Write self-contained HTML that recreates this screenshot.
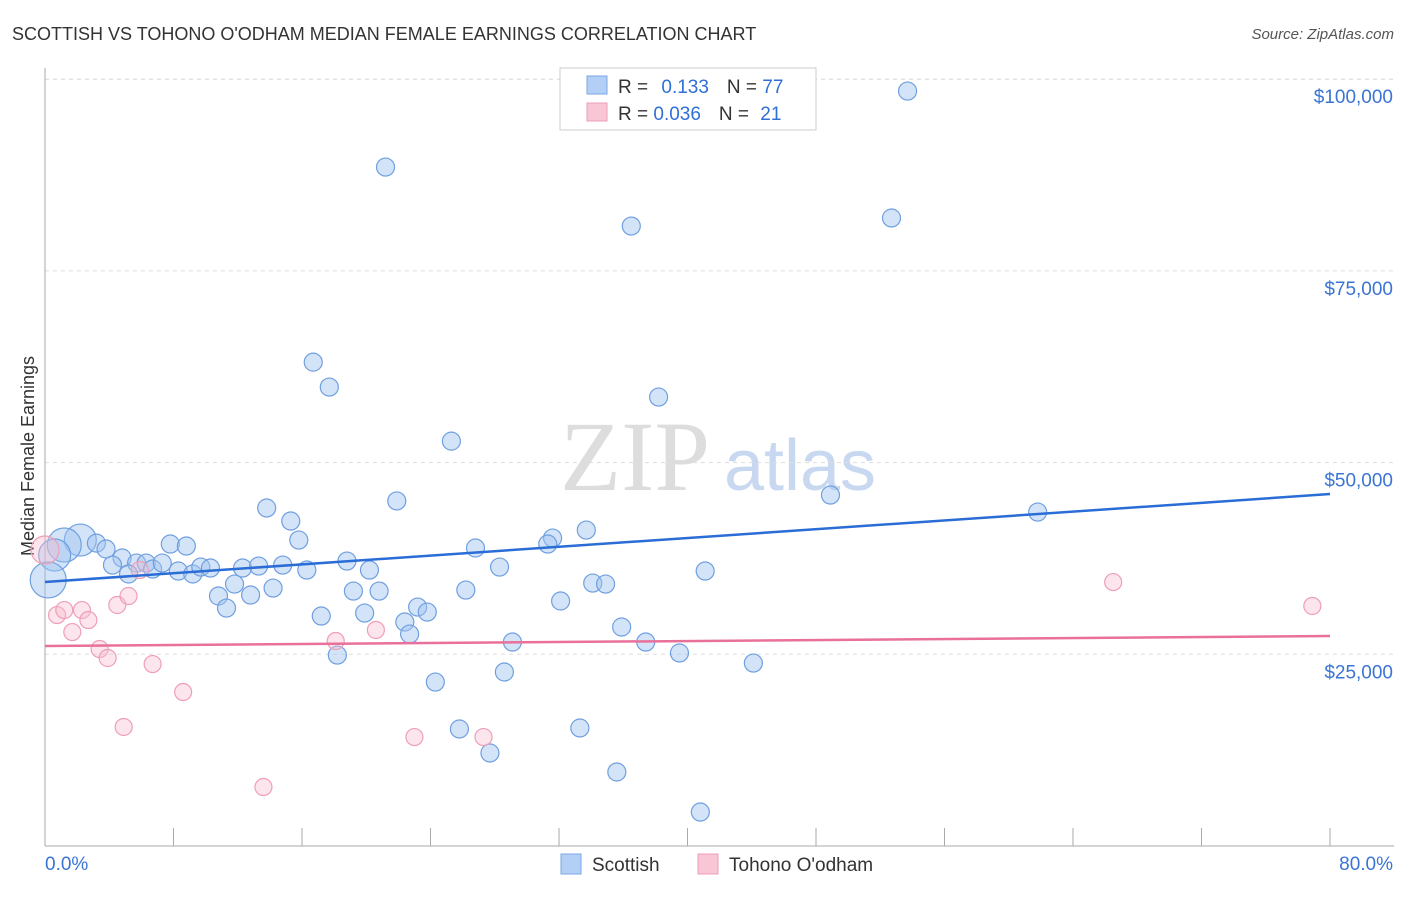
<!DOCTYPE html>
<html><head><meta charset="utf-8"><style>
body{margin:0;background:#fff;font-family:"Liberation Sans",sans-serif}
svg text{font-family:"Liberation Sans",sans-serif}
</style></head><body>
<svg id="c" width="1406" height="892" xmlns="http://www.w3.org/2000/svg">
<text x="12" y="40" font-size="18" fill="#333">SCOTTISH VS TOHONO O'ODHAM MEDIAN FEMALE EARNINGS CORRELATION CHART</text>
<text x="1394" y="39" font-size="15" fill="#555" text-anchor="end" font-style="italic">Source: ZipAtlas.com</text>
<text x="34" y="456" font-size="18" fill="#333" text-anchor="middle" transform="rotate(-90 34 456)">Median Female Earnings</text>
<g><text x="635" y="490" font-size="100" fill="#ddd" text-anchor="middle" style="font-family:'Liberation Serif',serif">ZIP</text><text x="800" y="490" font-size="72" fill="#c8d8f0" text-anchor="middle">atlas</text></g>
<g id="grid"></g><g id="axes"></g><g id="pts"></g><g id="lines"></g>
<g>
<rect x="560" y="68" width="256" height="62" fill="#fff" stroke="#ccc"/>
<rect x="587" y="76" width="20" height="18" fill="#b4cff5" stroke="#7aa7e6"/>
<rect x="587" y="103" width="20" height="18" fill="#f9c6d5" stroke="#ee9fb8"/>
<text x="618" y="93" font-size="19" fill="#333">R = <tspan fill="#2f6fd6" dx="8">0.133</tspan><tspan fill="#333" dx="18">N = </tspan><tspan fill="#2f6fd6">77</tspan></text>
<text x="618" y="120" font-size="19" fill="#333">R = <tspan fill="#2f6fd6">0.036</tspan><tspan fill="#333" dx="18">N = </tspan><tspan fill="#2f6fd6" dx="6">21</tspan></text>
</g>
<g>
<rect x="561" y="854" width="20" height="20" fill="#b4cff5" stroke="#7aa7e6"/>
<text x="592" y="871" font-size="19" fill="#333">Scottish</text>
<rect x="698" y="854" width="20" height="20" fill="#f9c6d5" stroke="#ee9fb8"/>
<text x="729" y="871" font-size="19" fill="#333">Tohono O'odham</text>
</g>
</svg>
<script>
const yTicks=[25000,50000,75000,100000];
const yTickLabels=["$25,000","$50,000","$75,000","$100,000"];
const xTicks=[0,8,16,24,32,40,48,56,64,72,80];
const blueX=[53.7,21.2,36.5,52.7,16.7,17.7,38.2,25.3,21.9,48.9,61.8,13.8,15.3,33.7,31.6,31.3,15.8,26.8,7.8,8.8,2.2,1.2,0.6,0.2,3.2,3.8,4.8,4.2,5.7,6.3,5.2,6.7,7.3,8.3,9.2,9.7,10.3,12.3,13.3,14.8,16.3,18.8,20.2,11.8,14.2,10.8,12.8,11.3,19.2,20.8,26.2,28.3,34.1,34.9,41.1,32.1,23.2,23.8,19.9,17.2,22.4,22.7,35.9,29.1,37.4,18.2,39.5,44.1,28.6,24.3,25.8,33.3,27.7,35.6,40.8];
const blueY=[98450,88540,80850,81900,63100,59850,58550,52800,45000,45770,43550,44080,42380,41200,40160,39380,39900,38860,39380,39120,39900,39250,37950,34700,39500,38730,37560,36640,36900,36900,35470,36120,36900,35860,35470,36380,36250,36250,36510,36640,35990,37160,35990,34160,33640,32600,32730,31030,33250,33250,33380,36380,34290,34160,35860,31950,31160,30510,30380,29990,29210,27640,28560,26600,26600,24900,25170,23860,22690,21380,15260,15390,12130,9650,4430];
const blueR=[9,9,9,9,9,9,9,9,9,9,9,9,9,9,9,9,9,9,9,9,16,17,16,18,9,9,9,9,9,9,9,9,9,9,9,9,9,9,9,9,9,9,9,9,9,9,9,9,9,9,9,9,9,9,9,9,9,9,9,9,9,9,9,9,9,9,9,9,9,9,9,9,9,9,9];
const pinkX=[0,0.75,1.2,2.3,2.7,1.7,4.5,5.2,5.9,3.4,3.9,6.7,8.6,4.9,13.6,18.1,20.6,23.0,27.3,66.5,78.9];
const pinkY=[38600,30120,30770,30770,29470,27900,31430,32600,35990,25690,24520,23730,20080,15520,7690,26730,28170,14210,14210,34420,31300];
const pinkR=[14,8.5,8.5,8.5,8.5,8.5,8.5,8.5,8.5,8.5,8.5,8.5,8.5,8.5,8.5,8.5,8.5,8.5,8.5,8.5,8.5];
const blueTrend=[34430,45900];
const pinkTrend=[26080,27380];
const X=v=>45+v/80*1285, Y=v=>846-v/25000*191.7;
const NS="http://www.w3.org/2000/svg";
function mk(p,t,a){const e=document.createElementNS(NS,t);for(const k in a)e.setAttribute(k,a[k]);p.appendChild(e);return e;}
const g=document.getElementById('grid'),ax=document.getElementById('axes'),pts=document.getElementById('pts'),ln=document.getElementById('lines');
yTicks.forEach((t,i)=>{
 const l=mk(g,'line',{x1:45,x2:1394,y1:Y(t),y2:Y(t),stroke:'#ddd','stroke-dasharray':'4,4'});
 
 
 const tx=mk(ax,'text',{x:1393,y:Y(t)+24,'font-size':19,fill:'#3a74d4','text-anchor':'end'});tx.textContent=yTickLabels[i];
 
 
});
const ya=mk(ax,'line',{x1:45,x2:45,y1:68,y2:846,stroke:'#aaa'});


const xa=mk(ax,'line',{x1:45,x2:1394,y1:846,y2:846,stroke:'#aaa'});


xTicks.forEach(t=>{const l=mk(ax,'line',{x1:X(t),x2:X(t),y1:828,y2:846,stroke:'#aaa'});
 
 });
const x0=mk(ax,'text',{x:45,y:870,'font-size':19,fill:'#3a74d4'});x0.textContent='0.0%';


const x1=mk(ax,'text',{x:1393,y:870,'font-size':19,fill:'#3a74d4','text-anchor':'end'});x1.textContent='80.0%';


blueX.forEach((v,i)=>{const c=mk(pts,'circle',{cx:X(v),cy:Y(blueY[i]),r:blueR[i],fill:'rgba(160,195,240,0.45)',stroke:'#6f9fe0','stroke-width':1.2});
 
 });
pinkX.forEach((v,i)=>{const c=mk(pts,'circle',{cx:X(v),cy:Y(pinkY[i]),r:pinkR[i],fill:'rgba(248,190,208,0.4)',stroke:'#ee9fb8','stroke-width':1.2});
 
 });
const bl=mk(ln,'line',{x1:X(0),x2:X(80),y1:Y(blueTrend[0]),y2:Y(blueTrend[1]),stroke:'#2a6dd6','stroke-width':2.5});


const pl=mk(ln,'line',{x1:X(0),x2:X(80),y1:Y(pinkTrend[0]),y2:Y(pinkTrend[1]),stroke:'#e8709a','stroke-width':2.5});


const topLine=mk(g,'line',{x1:45,x2:1394,y1:Y(100000),y2:Y(100000),stroke:'#ddd','stroke-dasharray':'4,4'});


</script>
</body></html>
